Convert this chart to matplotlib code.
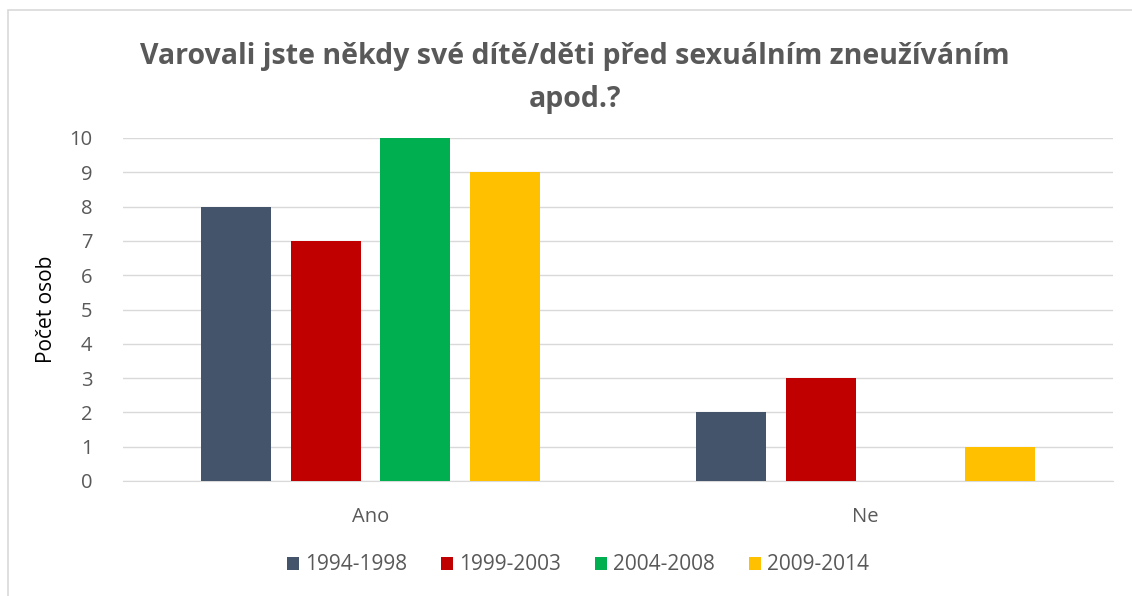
#!/usr/bin/env python3
import numpy as np
import matplotlib
matplotlib.use("Agg")
import matplotlib.pyplot as plt
from matplotlib.patches import Rectangle

categories = ["Ano", "Ne"]
periods = ["1994-1998", "1999-2003", "2004-2008", "2009-2014"]
values = [
    [8, 2],
    [7, 3],
    [10, 0],
    [9, 1],
]
colors = ["#44546A", "#C00000", "#00B050", "#FFC000"]


def main():
    plt.rcParams["font.family"] = ["Open Sans", "DejaVu Sans"]
    fig = plt.figure(figsize=(11.32, 5.96), dpi=100)
    ax = fig.add_axes([123 / 1132, 1 - 481 / 596, 990 / 1132, 343 / 596])

    # outer chart border
    fig.patches.append(Rectangle((8 / 1132, -0.05), 1.2, 1 - 10 / 596 + 0.05,
                                 transform=fig.transFigure, fill=False,
                                 edgecolor="#D9D9D9", linewidth=1.2))

    x = np.arange(len(categories))
    width = 0.1414
    step = 0.181
    for i, (name, vals, col) in enumerate(zip(periods, values, colors)):
        ax.bar(x + (i - 1.5) * step, vals, width, color=col, label=name, zorder=3)

    ax.set_xlim(-0.5, 1.5)
    ax.set_ylim(0, 10)
    ax.set_yticks(range(11))
    ax.set_xticks(x)
    ax.set_xticklabels(categories)
    ax.grid(axis="y", color="#D9D9D9", linewidth=1, zorder=0)
    for s in ["top", "right", "left"]:
        ax.spines[s].set_visible(False)
    ax.spines["bottom"].set_color("#D9D9D9")
    ax.tick_params(axis="both", length=0, labelsize=14.5, labelcolor="#595959")
    ax.tick_params(axis="y", pad=22)
    ax.tick_params(axis="x", pad=19)
    ax.set_ylabel("Počet osob", fontsize=15, color="black")
    ax.yaxis.set_label_coords(-66 / 990, 0.5)

    fig.text(575 / 1132, 1 - 78 / 596,
             "Varovali jste někdy své dítě/děti před sexuálním zneužíváním\napod.?",
             ha="center", va="center", fontsize=20.5, fontweight="bold",
             color="#595959", linespacing=1.6)

    fig.legend(loc="center", bbox_to_anchor=(578 / 1132, 1 - 565 / 596), ncol=4,
               frameon=False, fontsize=15, labelcolor="#595959",
               handlelength=0.6, handleheight=0.6, handletextpad=0.3,
               columnspacing=1.6)

    fig.savefig("out.png", dpi=100)


if __name__ == "__main__":
    main()
